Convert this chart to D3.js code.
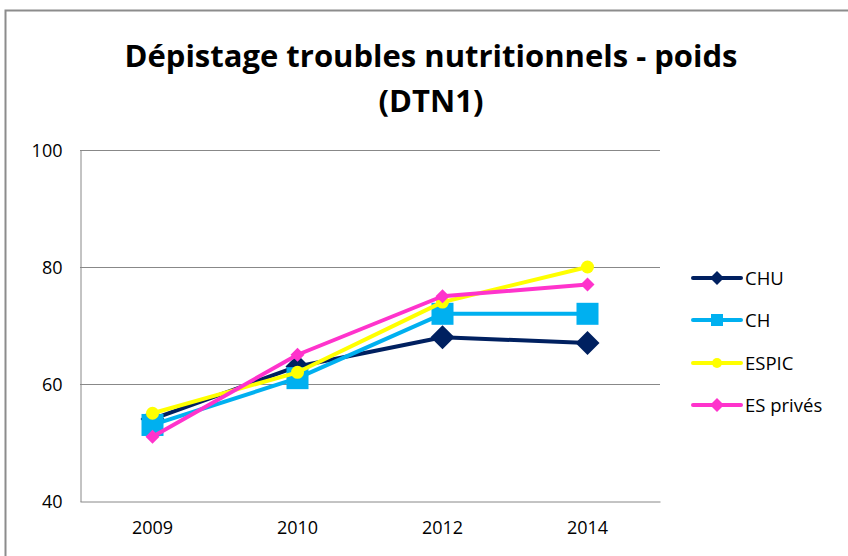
<!DOCTYPE html>
<html>
<head>
<meta charset="utf-8">
<script src="https://cdn.jsdelivr.net/npm/d3@7"></script>
<style>
  body { margin: 0; background: #fff; }
</style>
</head>
<body>
<div id="chart"></div>
<script>
// chart data
var years = ["2009", "2010", "2012", "2014"];
var names = ["CHU", "CH", "ESPIC", "ES privés"];
var chu = [54, 63, 68, 67];
var ch = [53, 61, 72, 72];
var espic = [55, 62, 74, 80];
var esPrives = [51, 65, 75, 77];
var yTicks = [40, 60, 80, 100];

var colors = ["#002060", "#00B0F0", "#FFFF00", "#FF33CC"];
var shapes = ["bigDiamond", "square", "circle", "smallDiamond"];
var allSeries = [chu, ch, espic, esPrives];

var w = 848, h = 556;
var plotLeft = 80, plotRight = 660, plotTop = 150, plotBottom = 501;

var svg = d3.select("#chart")
    .append("svg")
    .attr("width", w)
    .attr("height", h)
    .style("font-family", "'Open Sans', sans-serif");

// outer frame
svg.append("rect")
    .attr("x", 5.5).attr("y", 10.5)
    .attr("width", 900).attr("height", 600)
    .attr("fill", "#fff")
    .attr("stroke", "#8c8c8c")
    .attr("stroke-width", 2);

// title
svg.append("text")
    .attr("x", 431).attr("y", 67)
    .attr("text-anchor", "middle")
    .attr("font-size", "31px")
    .attr("font-weight", "bold")
    .attr("fill", "#000")
    .text("Dépistage troubles nutritionnels - poids");
svg.append("text")
    .attr("x", 431).attr("y", 112)
    .attr("text-anchor", "middle")
    .attr("font-size", "31px")
    .attr("font-weight", "bold")
    .attr("fill", "#000")
    .text("(DTN1)");

var xScale = d3.scaleBand()
    .domain(years)
    .range([plotLeft, plotRight]);

var yScale = d3.scaleLinear()
    .domain([40, 100])
    .range([plotBottom, plotTop]);

// gridlines
svg.append("g")
    .selectAll("line")
    .data(yTicks.slice(1))
    .enter()
    .append("line")
    .attr("x1", plotLeft).attr("x2", plotRight)
    .attr("y1", function (d) { return yScale(d) + 0.5; })
    .attr("y2", function (d) { return yScale(d) + 0.5; })
    .attr("stroke", "#888")
    .attr("stroke-width", 1);

// y axis
var yAxis = d3.axisLeft(yScale).tickValues(yTicks).tickSize(0).tickPadding(18);
var gy = svg.append("g")
    .attr("transform", "translate(" + (plotLeft + 0.5) + ",0.5)")
    .call(yAxis);
gy.select(".domain").attr("stroke", "#888");
gy.selectAll("text").attr("font-size", "18px").attr("fill", "#000")
    .style("font-family", "'Open Sans', sans-serif");

// x axis
var xAxis = d3.axisBottom(xScale).tickSize(0).tickPadding(20);
var gx = svg.append("g")
    .attr("transform", "translate(0," + (plotBottom + 0.5) + ")")
    .call(xAxis);
gx.select(".domain").attr("stroke", "#888");
gx.selectAll("text").attr("font-size", "18px").attr("fill", "#000")
    .style("font-family", "'Open Sans', sans-serif");

function cx(i) { return xScale(years[i]) + xScale.bandwidth() / 2; }

function drawMarker(g, shape, x, y, color) {
    if (shape == "bigDiamond") {
        g.append("path")
            .attr("d", "M" + x + "," + (y - 12) + "L" + (x + 12) + "," + y + "L" + x + "," + (y + 12) + "L" + (x - 12) + "," + y + "Z")
            .attr("fill", color);
    } else if (shape == "square") {
        g.append("rect")
            .attr("x", x - 11).attr("y", y - 11)
            .attr("width", 22).attr("height", 22)
            .attr("fill", color);
    } else if (shape == "circle") {
        g.append("circle")
            .attr("cx", x).attr("cy", y).attr("r", 6.5)
            .attr("fill", color);
    } else {
        g.append("path")
            .attr("d", "M" + x + "," + (y - 7) + "L" + (x + 7) + "," + y + "L" + x + "," + (y + 7) + "L" + (x - 7) + "," + y + "Z")
            .attr("fill", color);
    }
}

var line = d3.line()
    .x(function (d, i) { return cx(i); })
    .y(function (d) { return yScale(d); });

allSeries.forEach(function (s, k) {
    var g = svg.append("g");
    g.append("path")
        .datum(s)
        .attr("d", line)
        .attr("fill", "none")
        .attr("stroke", colors[k])
        .attr("stroke-width", 4)
        .attr("stroke-linejoin", "round");
    s.forEach(function (v, i) {
        drawMarker(g, shapes[k], cx(i), yScale(v), colors[k]);
    });
});

// legend
var legendY = [278, 320, 363, 405];
names.forEach(function (n, k) {
    var g = svg.append("g");
    g.append("line")
        .attr("x1", 693).attr("x2", 741)
        .attr("y1", legendY[k]).attr("y2", legendY[k])
        .attr("stroke", colors[k])
        .attr("stroke-width", 4)
        .attr("stroke-linecap", "round");
    if (shapes[k] == "square") {
        g.append("rect")
            .attr("x", 711).attr("y", legendY[k] - 6)
            .attr("width", 12).attr("height", 12)
            .attr("fill", colors[k]);
    } else if (shapes[k] == "circle") {
        g.append("circle")
            .attr("cx", 717).attr("cy", legendY[k]).attr("r", 5)
            .attr("fill", colors[k]);
    } else {
        drawMarker(g, "smallDiamond", 717, legendY[k], colors[k]);
    }
    g.append("text")
        .attr("x", 745).attr("y", legendY[k] + 7)
        .attr("font-size", "18.5px")
        .attr("fill", "#000")
        .text(n);
});
</script>
</body>
</html>
